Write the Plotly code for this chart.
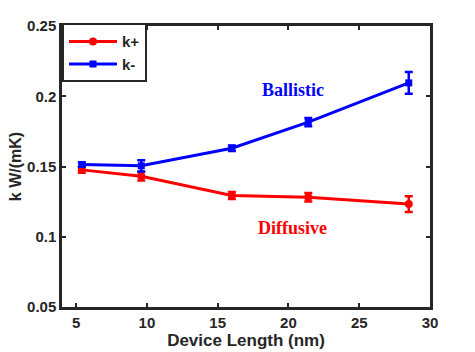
import plotly.graph_objects as go

length_nm = [5.4, 9.6, 16.0, 21.4, 28.5]
k_plus = [0.1476, 0.1431, 0.1293, 0.1281, 0.1233]
k_plus_err = [0.0020, 0.0030, 0.0025, 0.0030, 0.0056]
k_minus = [0.1514, 0.1505, 0.1630, 0.1816, 0.2095]
k_minus_err = [0.0015, 0.0040, 0.0020, 0.0030, 0.0077]

x_ticks = [5, 10, 15, 20, 25, 30]
y_ticks = [0.05, 0.1, 0.15, 0.2, 0.25]

fig = go.Figure()
fig.add_trace(go.Scatter(
    x=length_nm, y=k_plus, name="k+", mode="lines+markers",
    line=dict(color="#ff0000", width=3),
    marker=dict(symbol="circle", size=8, color="#ff0000"),
    error_y=dict(type="data", array=k_plus_err, color="#ff0000", thickness=2.5, width=4),
))
fig.add_trace(go.Scatter(
    x=length_nm, y=k_minus, name="k-", mode="lines+markers",
    line=dict(color="#0000ff", width=3),
    marker=dict(symbol="square", size=7, color="#0000ff"),
    error_y=dict(type="data", array=k_minus_err, color="#0000ff", thickness=2.5, width=4),
))

axis_common = dict(
    showline=True, linecolor="#262626", linewidth=2.5, mirror="ticks",
    ticks="inside", ticklen=4, tickwidth=2, tickcolor="#262626",
    showgrid=False, zeroline=False, automargin=False,
    tickfont=dict(family="Liberation Sans, Arial", size=15, color="#262626", weight="bold"),
)

fig.update_xaxes(range=[4, 30], tickmode="array", tickvals=x_ticks,
                 ticktext=[str(v) for v in x_ticks], **axis_common,
                 title=dict(text="Device Length (nm)", standoff=4,
                            font=dict(family="Liberation Sans, Arial", size=17, color="#262626", weight="bold")))
fig.update_yaxes(range=[0.05, 0.25], tickmode="array", tickvals=y_ticks,
                 ticktext=[f"{v:g}" for v in y_ticks], **axis_common,
                 title=dict(text="k W/(mK)", standoff=2,
                            font=dict(family="Liberation Sans, Arial", size=16, color="#262626", weight="bold")))

fig.add_annotation(x=20.3, y=0.2043, xref="x", yref="y", text="<b>Ballistic</b>", showarrow=False,
                   font=dict(family="Liberation Serif, Times New Roman", size=18, color="#0000ff"))
fig.add_annotation(x=20.3, y=0.1064, xref="x", yref="y", text="<b>Diffusive</b>", showarrow=False,
                   font=dict(family="Liberation Serif, Times New Roman", size=18, color="#ff0000"))

fig.update_layout(
    width=475, height=352,
    margin=dict(l=62, r=45, t=26, b=45),
    plot_bgcolor="white", paper_bgcolor="white",
    showlegend=True,
    legend=dict(x=0, y=1.01, xanchor="left", yanchor="top",
                bordercolor="#262626", borderwidth=2, bgcolor="white",
                font=dict(family="Liberation Sans, Arial", size=15, color="#262626", weight="bold"),
                tracegroupgap=0, itemwidth=48),
)

fig.write_html("out.html")
